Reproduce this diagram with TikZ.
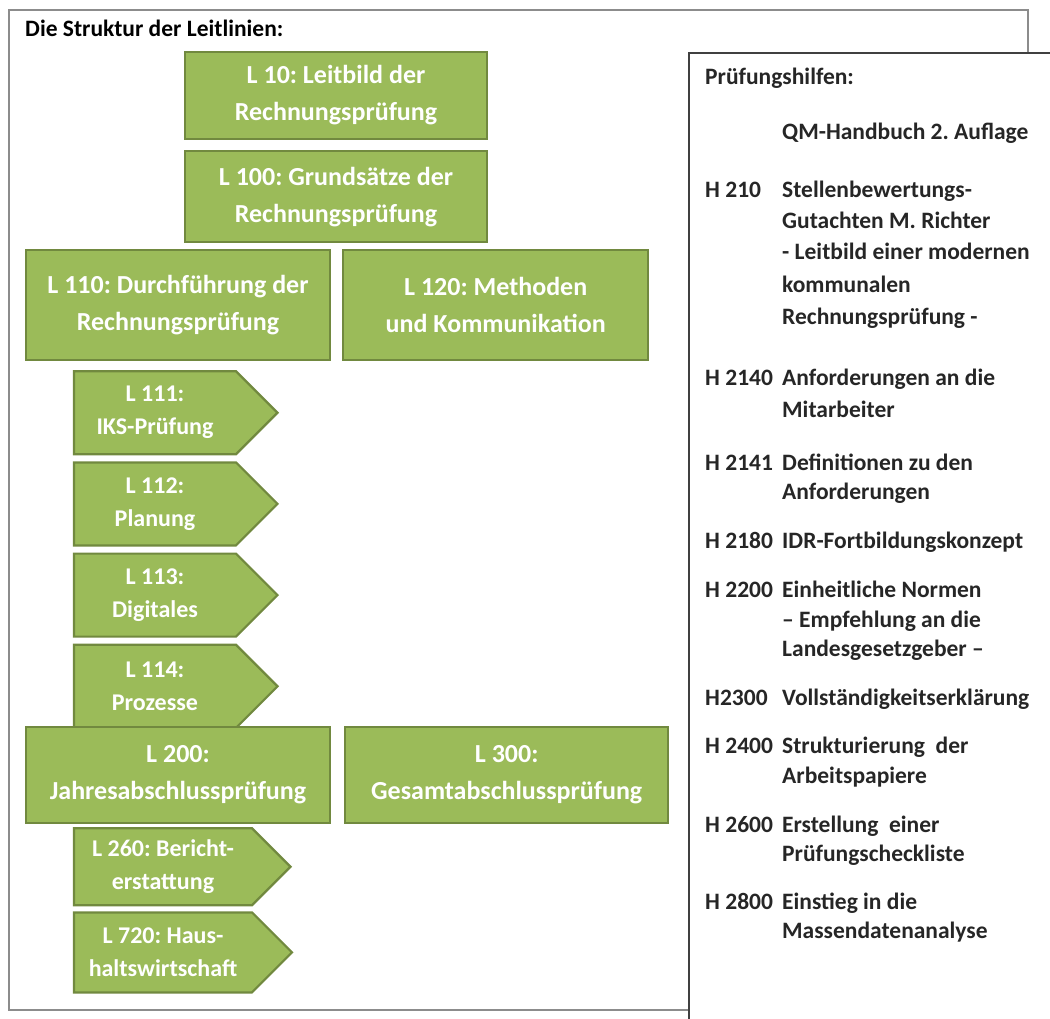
\documentclass[tikz,border=0pt]{standalone}
\usepackage{fontspec}
\setmainfont{Carlito}
\usepackage{tikz}
\usetikzlibrary{positioning,shapes.symbols}
\definecolor{lgruen}{HTML}{9BBB59}
\definecolor{lrand}{HTML}{71893F}
\frenchspacing

\begin{document}
\begin{tikzpicture}[
  x=1pt, y=-1pt,
  lbox/.style={draw=lrand, fill=lgruen, line width=2.2pt, text=white, align=center,
    font=\fontsize{26}{37}\selectfont\bfseries, inner sep=2pt},
  lpfeil/.style={signal, signal to=east, signal pointer angle=90, draw=lrand, fill=lgruen,
    line width=2.2pt, text=white, align=flush center, inner xsep=0pt, inner ysep=2pt,
    font=\fontsize{24}{33}\selectfont\bfseries},
  htxt/.style={anchor=base west, inner sep=0pt, text=black!85,
    font=\fontsize{23.5}{30}\selectfont\bfseries}
]
\useasboundingbox (0,0) rectangle (1050,1019);
% Rahmen links
\draw[black!45, line width=1.5pt] (9,10) rectangle (1028,1010);
\node[htxt, text=black] (titel) at (25,37) {Die Struktur der Leitlinien:};
% Leitlinien
\node[lbox, minimum width=302pt, minimum height=87pt] (l10) at (336,95.5) {L 10: Leitbild der\\Rechnungsprüfung};
\node[lbox, minimum width=302pt, minimum height=91pt, below=10pt of l10] (l100) {L 100: Grundsätze der\\Rechnungsprüfung};
\node[lbox, minimum width=304pt, minimum height=110pt] (l110) at (178,305) {L 110: Durchführung der\\Rechnungsprüfung};
\node[lbox, minimum width=305pt, minimum height=110pt, right=11pt of l110] (l120) {L 120: Methoden\\und Kommunikation};
\node[lpfeil, text width=162pt, minimum height=83pt, below right=9pt and 48pt of l110.south west] (l111) {L 111:\\IKS-Prüfung};
\node[lpfeil, text width=162pt, minimum height=83pt, below=6pt of l111] (l112) {L 112:\\Planung};
\node[lpfeil, text width=162pt, minimum height=83pt, below=6pt of l112] (l113) {L 113:\\Digitales};
\node[lpfeil, text width=162pt, minimum height=83pt, below=6pt of l113] (l114) {L 114:\\Prozesse};
\node[lbox, minimum width=304pt, minimum height=96pt] (l200) at (178,775) {L 200:\\Jahresabschlussprüfung};
\node[lbox, minimum width=323pt, minimum height=96pt, right=13pt of l200] (l300) {L 300:\\Gesamtabschlussprüfung};
\node[lpfeil, text width=178pt, minimum height=77pt, below right=3pt and 48pt of l200.south west] (l260) {L 260: Bericht-\\erstattung};
\node[lpfeil, text width=178pt, minimum height=80pt, below=5pt of l260] (l720) {L 720: Haus-\\haltswirtschaft};
% Pruefungshilfen
\draw[black!75, line width=2pt, fill=white] (689,53) rectangle (1070,1040);
\node[htxt] (hkopf) at (705,85) {Prüfungshilfen:};
\foreach \y/\nr/\txt [count=\i] in {
  140//QM-Handbuch 2. Auflage,
  198/H 210/Stellenbewertungs-,
  229//Gutachten M. Richter,
  260//- Leitbild einer modernen,
  292//kommunalen,
  324//Rechnungsprüfung -,
  385/H 2140/Anforderungen an die,
  417//Mitarbeiter,
  470/H 2141/Definitionen zu den,
  499//Anforderungen,
  548/H 2180/IDR-Fortbildungskonzept,
  597/H 2200/Einheitliche Normen,
  627//– Empfehlung an die,
  656//Landesgesetzgeber –,
  705/H2300/Vollständigkeitserklärung,
  753/H 2400/Strukturierung\ \ der,
  783//Arbeitspapiere,
  832/H 2600/Erstellung\ \ einer,
  861//Prüfungscheckliste,
  909/H 2800/Einstieg in die,
  938//Massendatenanalyse}
{
  \node[htxt] (nr\i) at (705,\y) {\nr};
  \node[htxt] (txt\i) at (782,\y) {\txt};
}
\end{tikzpicture}
\end{document}
